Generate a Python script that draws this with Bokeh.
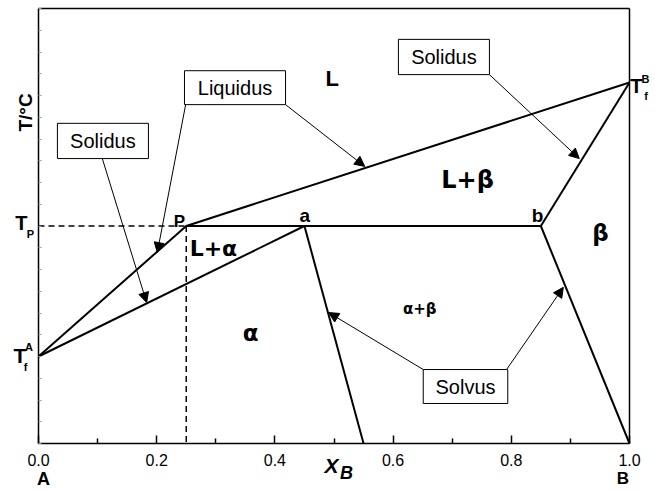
from math import pi

from bokeh.plotting import figure
from bokeh.models import (Range1d, FixedTicker, Arrow, NormalHead, Label, LinearAxis,
                          NumeralTickFormatter)
from bokeh.embed import file_html
from bokeh.resources import INLINE

# ---- phase-diagram data: composition X_B and temperature (arbitrary scale) ----
T_fA = 20.0          # melting point of pure A
T_P = 50.0           # peritectic temperature
T_fB = 83.0          # melting point of pure B
T_low = 0.0          # bottom of the diagram
T_high = 100.0       # top of the diagram

x_P = 0.25           # liquid composition at the peritectic
x_a = 0.45           # alpha composition at the peritectic
x_b = 0.85           # beta composition at the peritectic
x_a_low = 0.55       # alpha solvus at the bottom
x_b_low = 1.0        # beta solvus at the bottom

liquidus_x = [0.0, x_P, 1.0]
liquidus_T = [T_fA, T_P, T_fB]
solidus_alpha_x = [0.0, x_a]
solidus_alpha_T = [T_fA, T_P]
solidus_beta_x = [x_b, 1.0]
solidus_beta_T = [T_P, T_fB]
peritectic_x = [x_P, x_b]
peritectic_T = [T_P, T_P]
solvus_alpha_x = [x_a, x_a_low]
solvus_alpha_T = [T_P, T_low]
solvus_beta_x = [x_b, x_b_low]
solvus_beta_T = [T_P, T_low]

x_ticks = [0.0, 0.2, 0.4, 0.6, 0.8, 1.0]
x_minor = [0.1, 0.3, 0.5, 0.7, 0.9]
y_ticks = [5 * i for i in range(21)]

FONT = "Liberation Sans"
GREEK_FONT = "DejaVu Sans"

# the frame fills the whole canvas; the diagram box spans x 0..1, T 0..100
W, H = 655, 490
BOX_L, BOX_R, BOX_T, BOX_B = 38, 629, 8, 443
x_per_px = 1.0 / (BOX_R - BOX_L)
y_per_px = (T_high - T_low) / (BOX_B - BOX_T)
x_range = Range1d(-BOX_L * x_per_px, 1.0 + (W - BOX_R) * x_per_px)
y_range = Range1d(T_low - (H - BOX_B) * y_per_px, T_high + BOX_T * y_per_px)

p = figure(width=W, height=H, output_backend="svg", toolbar_location=None,
           x_range=x_range, y_range=y_range,
           x_axis_location=None, y_axis_location=None,
           min_border=0, min_border_left=0, min_border_right=0,
           min_border_top=0, min_border_bottom=0)
p.xgrid.visible = False
p.ygrid.visible = False
p.background_fill_color = "white"
p.border_fill_color = "white"
p.outline_line_color = None

# x axis along T = 0: inward ticks, labels 0.0 ... 1.0
xa = LinearAxis(fixed_location=T_low, bounds=(0, 1),
                ticker=FixedTicker(ticks=x_ticks, minor_ticks=x_minor),
                formatter=NumeralTickFormatter(format="0.0"))
xa.axis_line_width = 1.5
xa.major_tick_in = 8
xa.major_tick_out = 0
xa.minor_tick_in = 5
xa.minor_tick_out = 0
xa.major_tick_line_width = 1.5
xa.minor_tick_line_width = 1.5
xa.major_label_standoff = 10
xa.major_label_text_font = FONT
xa.major_label_text_font_size = "16px"
xa.major_label_text_color = "black"
p.add_layout(xa, "below")

# y axis along X_B = 0: short inward ticks, no numbers
ya = LinearAxis(fixed_location=0.0, bounds=(T_low, T_high),
                ticker=FixedTicker(ticks=y_ticks, minor_ticks=[]))
ya.major_label_overrides = {t: "" for t in y_ticks}
ya.axis_line_width = 1.5
ya.major_tick_in = 3
ya.major_tick_out = 0
ya.major_tick_line_width = 1
ya.major_tick_line_color = "#999999"
p.add_layout(ya, "left")

# closing edges of the box
top = LinearAxis(fixed_location=T_high, bounds=(0, 1), ticker=FixedTicker(ticks=[], minor_ticks=[]),
                 major_tick_in=0, major_tick_out=0, minor_tick_in=0, minor_tick_out=0,
                 axis_line_width=1.5)
top.major_label_text_font_size = "0px"
p.add_layout(top, "above")
right = LinearAxis(fixed_location=1.0, bounds=(T_low, T_high), ticker=FixedTicker(ticks=[], minor_ticks=[]),
                   major_tick_in=0, major_tick_out=0, minor_tick_in=0, minor_tick_out=0,
                   axis_line_width=1.5)
right.major_label_text_font_size = "0px"
p.add_layout(right, "right")

# guide lines at the peritectic point
p.line([0.0, x_P], [T_P, T_P], line_color="black", line_width=1.5, line_dash="6 4")
p.line([x_P, x_P], [T_P, T_low], line_color="black", line_width=1.5, line_dash="6 4")

# phase boundaries
for xs, ts in [(liquidus_x, liquidus_T), (solidus_alpha_x, solidus_alpha_T),
               (solidus_beta_x, solidus_beta_T), (peritectic_x, peritectic_T),
               (solvus_alpha_x, solvus_alpha_T), (solvus_beta_x, solvus_beta_T)]:
    p.line(xs, ts, line_color="black", line_width=2)

# callout arrows (tail -> head)
arrows = [
    (0.108, 65.5, 0.183, 32.4),   # Solidus (left)
    (0.249, 77.9, 0.201, 43.9),   # Liquidus -> A side
    (0.418, 77.9, 0.552, 63.7),   # Liquidus -> B side
    (0.763, 84.8, 0.915, 65.5),   # Solidus (right)
    (0.651, 17.0, 0.491, 30.1),   # Solvus -> alpha
    (0.792, 17.0, 0.888, 35.9),   # Solvus -> beta
]
for x0, y0, x1, y1 in arrows:
    p.add_layout(Arrow(x_start=x0, y_start=y0, x_end=x1, y_end=y1, line_width=1,
                       line_color="black",
                       end=NormalHead(size=10, fill_color="black", line_color="black", line_width=1)))

# callout boxes: (text, left, right, bottom, top)
boxes = [
    ("Solidus", 0.032, 0.186, 65.5, 73.6),
    ("Liquidus", 0.247, 0.418, 77.9, 85.7),
    ("Solidus", 0.609, 0.763, 84.8, 92.9),
    ("Solvus", 0.651, 0.794, 9.2, 17.0),
]
p.quad(left=[b[1] for b in boxes], right=[b[2] for b in boxes],
       bottom=[b[3] for b in boxes], top=[b[4] for b in boxes],
       fill_color="white", line_color="black", line_width=1)
for text, l, r, b, t in boxes:
    p.add_layout(Label(x=(l + r) / 2, y=(b + t) / 2, text=text, text_align="center",
                       text_baseline="middle", text_font=FONT, text_font_size="20px",
                       text_color="black"))


def lab(x, y, text, size, bold=True, italic=False, font=FONT, angle=0.0):
    style = "bold italic" if (bold and italic) else ("bold" if bold else ("italic" if italic else "normal"))
    p.add_layout(Label(x=x, y=y, text=text, text_align="center", text_baseline="middle",
                       text_font=font, text_font_size=f"{size}px", text_font_style=style,
                       text_color="black", angle=angle, level="overlay"))


# phase-field names
lab(0.497, 83.9, "L", 22)
lab(0.726, 60.5, "L+β", 24, font=GREEK_FONT)
lab(0.296, 44.8, "L+α", 22, font=GREEK_FONT)
lab(0.951, 48.3, "β", 23, font=GREEK_FONT)
lab(0.359, 25.3, "α", 23, font=GREEK_FONT)
lab(0.645, 31.0, "α+β", 15, font=GREEK_FONT)

# invariant points
lab(0.2386, 51.0, "P", 17)
lab(0.4505, 52.4, "a", 19)
lab(0.8443, 52.4, "b", 19)

# temperature marks beside the box
lab(-0.0288, 50.8, "T", 20)
lab(-0.0135, 48.2, "P", 11)
lab(-0.0313, 20.2, "T", 21)
lab(-0.0161, 22.2, "A", 11)
lab(-0.0220, 17.7, "f", 11)
lab(1.0118, 82.2, "T", 20)
lab(1.0271, 83.8, "B", 11)
lab(1.0279, 80.0, "f", 11)

# axis titles and end members
lab(-0.0220, 76.1, "T/°C", 19, angle=pi / 2)
lab(0.4958, -5.0, "X", 21, italic=True)
lab(0.5212, -6.8, "B", 18, italic=True)
lab(0.0085, -8.05, "A", 18)
lab(0.9890, -8.05, "B", 17)

open("out.html", "w").write(file_html(p, INLINE))
